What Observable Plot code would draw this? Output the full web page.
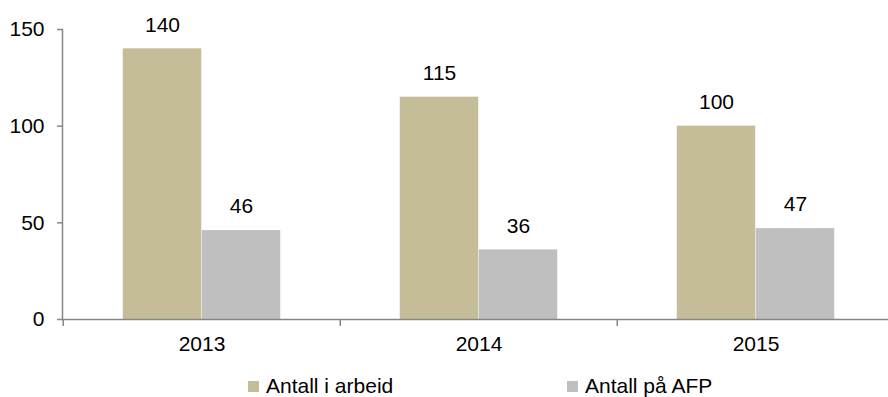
<!DOCTYPE html>
<html><head><meta charset="utf-8">
<script src="https://cdn.jsdelivr.net/npm/d3@7"></script>
<script src="https://cdn.jsdelivr.net/npm/@observablehq/plot@0.6"></script>
<style>
body{margin:0;background:#fff;font-family:"Liberation Sans",Arial,sans-serif;}
#legend{position:relative;height:32px;width:888px;font-size:21px;color:#000;overflow:hidden;}
#legend .item{position:absolute;top:10px;line-height:21px;white-space:nowrap;}
#legend .sw{position:absolute;top:16px;width:11px;height:11px;}
</style></head>
<body><div id="chart"></div><div id="legend"></div>
<script>
const years = ["2013", "2014", "2015"];
const series = ["Antall i arbeid", "Antall på AFP"];
const arbeid = [140, 115, 100];
const afp = [46, 36, 47];
const yTicks = [0, 50, 100, 150];
const colors = ["#C4BD97", "#BFBFBF"];

const rows = years.flatMap((y, i) => [
  {year: y, series: series[0], value: arbeid[i]},
  {year: y, series: series[1], value: afp[i]}
]);
const rowsA = rows.filter(d => d.series === series[0]);
const rowsB = rows.filter(d => d.series === series[1]);

const axisColor = "#868686";
const left = 62, right = 894.5;
const step = (right - left) / years.length;
const half = step / 2;
const bw = 79;
const fs = 21;

const chart = Plot.plot({
  width: 888,
  height: 365,
  marginTop: 29,
  marginBottom: 46,
  marginLeft: left,
  marginRight: 0,
  style: {fontSize: fs + "px", fontFamily: "'Liberation Sans', Arial, sans-serif", color: "#000", background: "#fff"},
  x: {domain: years, range: [left, right], padding: 0, axis: null},
  y: {domain: [0, 150], axis: null},
  color: {domain: series, range: colors},
  marks: [
    Plot.barY(rowsA, {x: "year", y: "value", fill: "series", insetLeft: half - bw, insetRight: half}),
    Plot.barY(rowsB, {x: "year", y: "value", fill: "series", insetLeft: half, insetRight: half - bw}),
    Plot.text(rowsA, {x: "year", y: "value", text: d => String(d.value), dx: -bw / 2, dy: -24, fontSize: fs, fill: "#000"}),
    Plot.text(rowsB, {x: "year", y: "value", text: d => String(d.value), dx: bw / 2, dy: -24, fontSize: fs, fill: "#000"}),
    Plot.ruleY([0], {stroke: axisColor, strokeWidth: 1.5}),
    Plot.frame({anchor: "left", stroke: axisColor, strokeWidth: 1.5}),
    Plot.axisY({ticks: yTicks, tickSize: 5, tickPadding: 13, stroke: axisColor, strokeWidth: 1.5, fill: "#000", fontSize: fs, tickFormat: d => String(d), label: null}),
    Plot.axisX({ticks: years, tickSize: 7, dx: -half, stroke: axisColor, strokeWidth: 1.5, tickFormat: () => "", label: null}),
    Plot.axisX({ticks: years, tickSize: 0, tickPadding: 17, fill: "#000", fontSize: fs, label: null})
  ]
});
document.getElementById("chart").appendChild(chart);

const legend = document.getElementById("legend");
const legendX = [248, 567];
series.forEach((s, i) => {
  const sw = document.createElement("div");
  sw.className = "sw";
  sw.style.left = legendX[i] + "px";
  sw.style.background = colors[i];
  legend.appendChild(sw);
  const t = document.createElement("div");
  t.className = "item";
  t.style.left = (legendX[i] + 18) + "px";
  t.textContent = s;
  legend.appendChild(t);
});
</script>
</body></html>
